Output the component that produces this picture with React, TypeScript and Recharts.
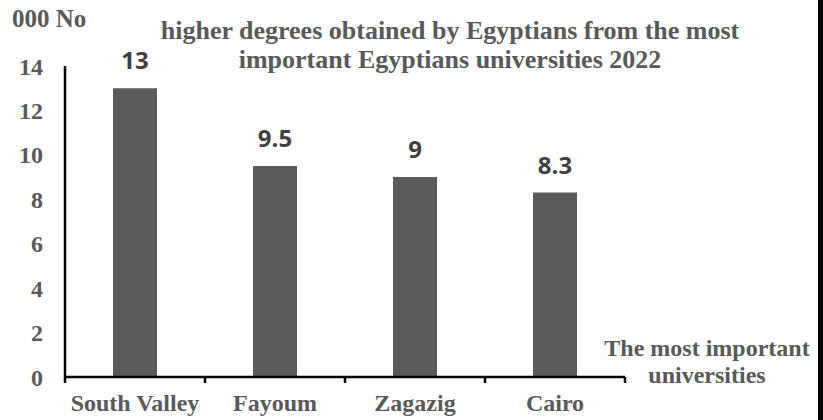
import React from 'react';
import { BarChart, Bar, XAxis, YAxis, LabelList } from 'recharts';

const universities = ['South Valley', 'Fayoum', 'Zagazig', 'Cairo'];
const degrees = [13, 9.5, 9, 8.3];
const yTicks = [0, 2, 4, 6, 8, 10, 12, 14];

const titleLines = [
  'higher degrees obtained by Egyptians from the most',
  'important Egyptians universities 2022',
];
const yUnit = '000 No';
const xTitleLines = ['The most important', 'universities'];

const data = universities.map((name, i) => ({ name, value: degrees[i] }));

const serif = '"Liberation Serif", "Times New Roman", serif';
const grey = '#595959';
const X_TICK_SIZE = 5;
const X_TICK_MARGIN = 12;

// category label at the band centre, tick marks on the band edges (Excel style)
function CategoryTick(props: any) {
  const { x, y, payload } = props;
  const half = payload.offset ?? 70;
  const axisY = y - X_TICK_SIZE - X_TICK_MARGIN;
  const isLast = payload.value === universities[universities.length - 1];
  return (
    <g>
      <line x1={x - half} x2={x - half} y1={axisY} y2={axisY + 6} stroke="#000" strokeWidth={2.5} />
      {isLast && <line x1={x + half} x2={x + half} y1={axisY} y2={axisY + 6} stroke="#000" strokeWidth={2.5} />}
      <text
        x={x}
        y={y}
        dy="0.71em"
        textAnchor="middle"
        fill={grey}
        style={{ fontFamily: serif, fontWeight: 'bold', fontSize: 24 }}
      >
        {payload.value}
      </text>
    </g>
  );
}

export default function App() {
  return (
    <div style={{ position: 'absolute', left: 0, top: 0, width: 823, height: 420, background: '#fff', overflow: 'hidden' }}>
      <BarChart width={823} height={420} data={data} margin={{ top: 66, right: 198, bottom: 0, left: 0 }}>
        <XAxis
          dataKey="name"
          height={43}
          tickLine={false}
          tickSize={X_TICK_SIZE}
          tickMargin={X_TICK_MARGIN}
          axisLine={{ stroke: '#000', strokeWidth: 2.5 }}
          tick={<CategoryTick />}
        />
        <YAxis
          width={65}
          domain={[0, 14]}
          ticks={yTicks}
          tickSize={0}
          tickMargin={22}
          tickLine={false}
          axisLine={{ stroke: '#000', strokeWidth: 2.5 }}
          tick={{ fill: grey, fontFamily: serif, fontWeight: 'bold', fontSize: 24 }}
        />
        <Bar dataKey="value" fill="#5b5b5b" barSize={44} isAnimationActive={false}>
          <LabelList
            dataKey="value"
            position="top"
            offset={19}
            fill="#404040"
            style={{ fontFamily: '"Open Sans", sans-serif', fontWeight: 'bold', fontSize: 24 }}
          />
        </Bar>
      </BarChart>

      <div style={{ position: 'absolute', left: 12, top: 4, fontFamily: serif, fontWeight: 'bold', fontSize: 25, color: grey, lineHeight: '30px', whiteSpace: 'nowrap' }}>
        {yUnit}
      </div>

      <div style={{ position: 'absolute', left: 150, width: 600, top: 16, fontFamily: serif, fontWeight: 'bold', fontSize: 26, color: grey, lineHeight: '29px', textAlign: 'center', whiteSpace: 'nowrap' }}>
        {titleLines.map((l) => (
          <div key={l}>{l}</div>
        ))}
      </div>

      <div style={{ position: 'absolute', left: 597, width: 220, top: 335, fontFamily: serif, fontWeight: 'bold', fontSize: 24, color: grey, lineHeight: '27px', textAlign: 'center', whiteSpace: 'nowrap' }}>
        {xTitleLines.map((l) => (
          <div key={l}>{l}</div>
        ))}
      </div>

      <div style={{ position: 'absolute', left: 818, top: 0, width: 5, height: 420, background: '#000' }} />
    </div>
  );
}
